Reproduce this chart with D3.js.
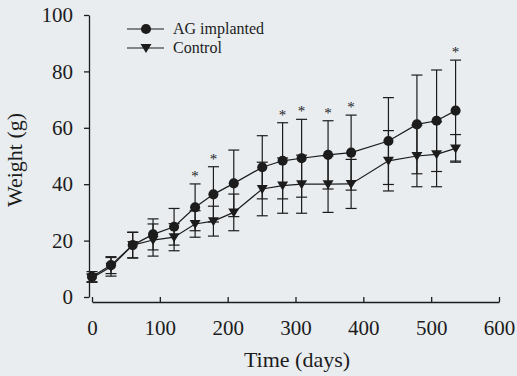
<!DOCTYPE html>
<html>
<head>
<meta charset="utf-8">
<script src="https://cdn.jsdelivr.net/npm/d3@7"></script>
<style>
  body { margin: 0; background: #e9edf0; }
  svg { display: block; }
  .axis path, .axis line { stroke: #1c1c1c; stroke-width: 1.3; }
  .axis text { font-family: 'Liberation Serif', 'Times New Roman', serif; font-size: 21px; fill: #1c1c1c; }
  .label { font-family: 'Liberation Serif', 'Times New Roman', serif; font-size: 22px; fill: #1c1c1c; }
  .legend text { font-family: 'Liberation Serif', 'Times New Roman', serif; font-size: 16px; fill: #1c1c1c; }
</style>
</head>
<body>
<svg id="chart" width="517" height="376"></svg>
<script>
// days since start
const days = [0, 28, 60, 90, 121, 152, 179, 209, 251, 281, 309, 348, 382, 437, 479, 508, 536];

// AG implanted, mean weight (g) and error
const agMean = [7.2, 11.3, 18.4, 22.2, 24.9, 31.8, 36.4, 40.3, 46.0, 48.3, 49.2, 50.4, 51.2, 55.3, 61.2, 62.5, 66.1];
const agErr = [1.8, 3.0, 4.6, 5.5, 6.5, 8.3, 9.8, 11.8, 11.2, 13.5, 13.8, 12.1, 13.3, 15.4, 17.5, 18.0, 17.9];

// control
const ctlMean = [6.7, 10.7, 18.4, 20.2, 21.2, 25.9, 26.9, 30.0, 38.3, 39.5, 40.0, 40.0, 40.1, 48.3, 50.0, 50.6, 52.7];
const ctlErr = [1.5, 3.3, 4.5, 5.7, 4.8, 4.7, 5.3, 6.5, 9.5, 9.8, 10.3, 10.0, 8.7, 10.7, 10.9, 11.5, 4.9];

// points marked as significant
const starIdx = [5, 6, 9, 10, 11, 12, 16];

const xTicks = [0, 100, 200, 300, 400, 500, 600];
const yTicks = [0, 20, 40, 60, 80, 100];

const ink = '#1c1c1c';
const svg = d3.select('#chart');

const x = d3.scaleLinear().domain([0, 600]).range([92, 499]);
const y = d3.scaleLinear().domain([0, 100]).range([297, 15]);

// axes
svg.append('g')
    .attr('class', 'axis')
    .attr('transform', 'translate(89,0)')
    .call(d3.axisLeft(y).tickValues(yTicks).tickSize(5).tickSizeOuter(0).tickPadding(11));

svg.append('g')
    .attr('class', 'axis')
    .attr('transform', 'translate(0,302)')
    .call(d3.axisBottom(x).tickValues(xTicks).tickSize(-5).tickSizeOuter(0).tickPadding(18));

svg.append('text')
    .attr('class', 'label')
    .attr('x', 297).attr('y', 367)
    .attr('text-anchor', 'middle')
    .text('Time (days)');

svg.append('text')
    .attr('class', 'label')
    .attr('transform', 'translate(22,160) rotate(-90)')
    .attr('text-anchor', 'middle')
    .text('Weight (g)');

function drawSeries(means, errs, symbol) {
    const pts = days.map((d, i) => ({ d: d, m: means[i], e: errs[i] }));
    const g = svg.append('g');

    const bars = g.selectAll('.err').data(pts).enter().append('g');
    bars.append('line')
        .attr('x1', p => x(p.d)).attr('x2', p => x(p.d))
        .attr('y1', p => y(p.m - p.e)).attr('y2', p => y(p.m + p.e))
        .attr('stroke', ink).attr('stroke-width', 1.2);
    [-1, 1].forEach(s => {
        bars.append('line')
            .attr('x1', p => x(p.d) - 5.5).attr('x2', p => x(p.d) + 5.5)
            .attr('y1', p => y(p.m + s * p.e)).attr('y2', p => y(p.m + s * p.e))
            .attr('stroke', ink).attr('stroke-width', 1.2);
    });

    g.append('path')
        .datum(pts)
        .attr('fill', 'none')
        .attr('stroke', ink)
        .attr('stroke-width', 1.2)
        .attr('d', d3.line().x(p => x(p.d)).y(p => y(p.m)));

    g.selectAll('.pt').data(pts).enter().append('path')
        .attr('transform', p => 'translate(' + x(p.d) + ',' + y(p.m) + ')')
        .attr('d', symbol)
        .attr('fill', ink);
    return g;
}

const circle = d3.symbol().type(d3.symbolCircle).size(80)();
const tri = 'M-5.5,-4L5.5,-4L0,5Z';

drawSeries(ctlMean, ctlErr, tri);
drawSeries(agMean, agErr, circle);

// significance stars
svg.selectAll('.star').data(starIdx).enter().append('text')
    .attr('x', i => x(days[i]))
    .attr('y', i => y(agMean[i] + agErr[i]) - 3)
    .attr('text-anchor', 'middle')
    .attr('font-family', 'Liberation Serif, serif')
    .attr('font-size', 15)
    .attr('fill', ink)
    .text('*');

// legend
const legend = svg.append('g').attr('class', 'legend');
const legendItems = [
    { name: 'AG implanted', sym: circle, y: 29 },
    { name: 'Control', sym: tri, y: 48 }
];
legendItems.forEach(it => {
    legend.append('line')
        .attr('x1', 127).attr('x2', 164)
        .attr('y1', it.y).attr('y2', it.y)
        .attr('stroke', ink).attr('stroke-width', 1.2);
    legend.append('path')
        .attr('transform', 'translate(146,' + it.y + ')')
        .attr('d', it.sym)
        .attr('fill', ink);
    legend.append('text')
        .attr('x', 173).attr('y', it.y + 5)
        .text(it.name);
});
</script>
</body>
</html>
